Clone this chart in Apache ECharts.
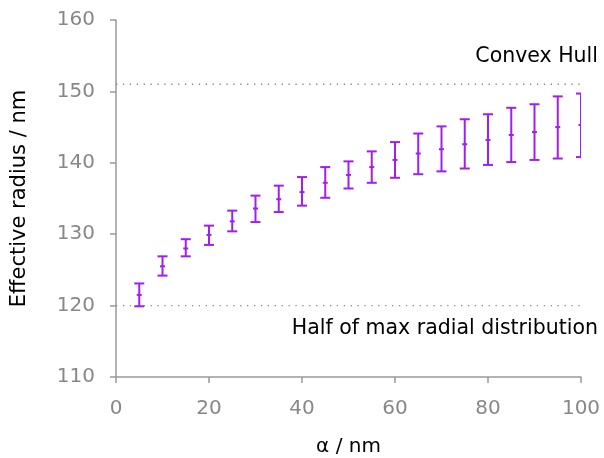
<!DOCTYPE html>
<html lang="en">
<head>
    <meta charset="UTF-8">
    <title>Effective radius</title>
    <script src="https://cdn.jsdelivr.net/npm/echarts@6/dist/echarts.min.js"></script>
    <style>
        html, body { margin: 0; padding: 0; background: #fff; }
    </style>
</head>
<body>
    <div id="echart" style="width: 604px; height: 458px;"></div>
</body>
<script>
    // alpha values (nm)
    const alphaVals = [5, 10, 15, 20, 25, 30, 35, 40, 45, 50, 55, 60, 65, 70, 75, 80, 85, 90, 95, 100];
    // mean effective radius (nm)
    const meanVals = [121.5, 125.5, 128.0, 129.9, 131.8, 133.6, 134.9, 135.9, 137.2, 138.3,
        139.4, 140.4, 141.3, 141.9, 142.6, 143.2, 143.9, 144.3, 145.0, 145.3];
    const lowVals = [119.9, 124.2, 126.9, 128.5, 130.4, 131.7, 133.1, 134.0, 135.1, 136.4,
        137.2, 137.9, 138.4, 138.8, 139.2, 139.7, 140.1, 140.4, 140.6, 140.8];
    const highVals = [123.1, 126.9, 129.3, 131.2, 133.3, 135.4, 136.8, 138.0, 139.4, 140.2,
        141.6, 142.9, 144.1, 145.1, 146.1, 146.8, 147.7, 148.2, 149.3, 149.7];

    // reference levels
    const convexHull = 151;
    const halfMax = 120;

    const purple = '#a01ff0';
    const font = 'DejaVu Sans';

    const errData = alphaVals.map((a, i) => [a, lowVals[i], highVals[i], meanVals[i]]);

    function renderBar(params, api) {
        const x = api.value(0);
        const lo = api.coord([x, api.value(1)]);
        const hi = api.coord([x, api.value(2)]);
        const mid = api.coord([x, api.value(3)]);
        const cap = 5;
        const style = { stroke: purple, lineWidth: 2 };
        return {
            type: 'group',
            children: [
                { type: 'line', shape: { x1: lo[0], y1: lo[1], x2: hi[0], y2: hi[1] }, style: style },
                { type: 'line', shape: { x1: lo[0] - cap, y1: lo[1], x2: lo[0] + cap, y2: lo[1] }, style: style },
                { type: 'line', shape: { x1: hi[0] - cap, y1: hi[1], x2: hi[0] + cap, y2: hi[1] }, style: style },
                { type: 'line', shape: { x1: mid[0] - 2.5, y1: mid[1], x2: mid[0] + 2.5, y2: mid[1] }, style: style }
            ]
        };
    }

    const refLine = {
        color: '#888',
        width: 1.3,
        type: [1.3, 5.6]
    };

    const myChart = echarts.init(document.getElementById('echart'));
    myChart.setOption({
        animation: false,
        textStyle: { fontFamily: font },
        grid: { left: 116, right: 23, top: 20, bottom: 81, outerBoundsMode: 'none', containLabel: false },
        xAxis: {
            type: 'value',
            min: 0, max: 100, interval: 20,
            name: 'α / nm',
            nameLocation: 'middle',
            nameGap: 60,
            nameTextStyle: { color: '#000', fontSize: 20, fontFamily: font },
            axisLine: { lineStyle: { color: '#999', width: 1.5 } },
            axisTick: { length: 6, lineStyle: { color: '#999', width: 1.5 } },
            axisLabel: { color: '#888', fontSize: 20, margin: 22, fontFamily: font },
            splitLine: { show: false }
        },
        yAxis: {
            type: 'value',
            min: 110, max: 160, interval: 10,
            name: 'Effective radius / nm',
            nameLocation: 'middle',
            nameGap: 86,
            nameTextStyle: { color: '#000', fontSize: 21, fontFamily: font },
            axisLine: { show: true, lineStyle: { color: '#999', width: 1.5 } },
            axisTick: { show: true, length: 6, lineStyle: { color: '#999', width: 1.5 } },
            axisLabel: { color: '#888', fontSize: 20, margin: 21, fontFamily: font },
            splitLine: { show: false }
        },
        series: [
            {
                type: 'line',
                data: [[0, convexHull], [100, convexHull]],
                symbol: 'none',
                lineStyle: refLine,
                silent: true
            },
            {
                type: 'line',
                data: [[0, halfMax], [100, halfMax]],
                symbol: 'none',
                lineStyle: refLine,
                silent: true
            },
            {
                type: 'custom',
                data: errData,
                renderItem: renderBar,
                clip: true,
                encode: { x: 0, y: [1, 2] },
                z: 5
            }
        ],
        graphic: [
            {
                type: 'text', right: 6, top: 46,
                style: { text: 'Convex Hull', fill: '#000', font: '20.5px "DejaVu Sans"' }
            },
            {
                type: 'text', right: 6, top: 318,
                style: { text: 'Half of max radial distribution', fill: '#000', font: '20.5px "DejaVu Sans"' }
            }
        ]
    });
</script>
</html>
